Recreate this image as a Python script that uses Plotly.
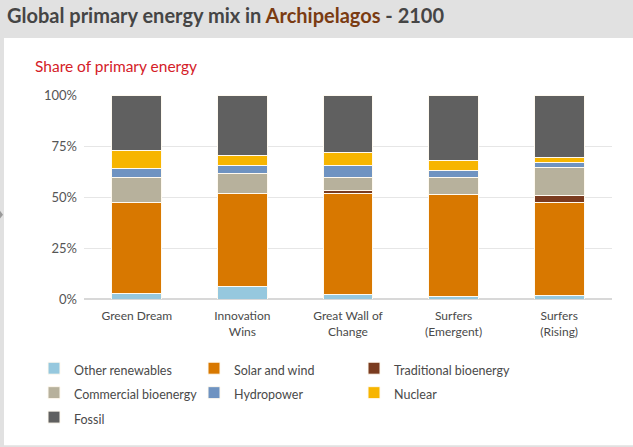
import plotly.graph_objects as go

# scenarios on the x axis
SCENARIOS = [
    "Green Dream",
    "Innovation<br>Wins",
    "Great Wall of<br>Change",
    "Surfers<br>(Emergent)",
    "Surfers<br>(Rising)",
]

# share of primary energy in 2100, % (bottom to top)
OTHER_RENEWABLES = [2.5, 5.9, 2.3, 1.0, 1.8]
SOLAR_WIND = [44.6, 46.0, 49.5, 50.3, 45.3]
TRADITIONAL_BIO = [0.0, 0.0, 1.4, 0.0, 3.7]
COMMERCIAL_BIO = [12.4, 9.6, 6.3, 8.2, 13.5]
HYDRO = [4.3, 3.9, 5.9, 3.3, 2.4]
NUCLEAR = [8.9, 4.9, 6.2, 5.0, 2.9]
FOSSIL = [27.3, 29.7, 28.4, 32.2, 30.4]

SERIES = [
    ("Other renewables", OTHER_RENEWABLES, "#96c8de"),
    ("Solar and wind", SOLAR_WIND, "#d87800"),
    ("Traditional bioenergy", TRADITIONAL_BIO, "#7a3b1f"),
    ("Commercial bioenergy", COMMERCIAL_BIO, "#b7b19c"),
    ("Hydropower", HYDRO, "#6f93c1"),
    ("Nuclear", NUCLEAR, "#f7b500"),
    ("Fossil", FOSSIL, "#606060"),
]

Y_TICKS = [0, 25, 50, 75, 100]

FONT = "Lato"
TEXT_GREY = "#4a4a4a"

W, H = 633, 447
M_L, M_R, M_T, M_B = 84, 21, 95, 144
PW = W - M_L - M_R
PH = H - M_T - M_B


def px_x(x):
    return (x - M_L) / PW


def px_y(y):
    return (H - M_B - y) / PH


fig = go.Figure()
for name, values, color in SERIES:
    fig.add_trace(
        go.Bar(
            x=SCENARIOS,
            y=values,
            name=f"<span style='font-size:12.5px'>{name}</span>",
            marker=dict(color=color, line=dict(color="#fffaf0", width=1)),
            hoverinfo="skip",
        )
    )

# grey page header / left strip with the white card on top of it
fig.add_shape(
    type="rect", xref="paper", yref="paper",
    x0=px_x(4), x1=px_x(W + 5), y0=px_y(H + 5), y1=px_y(37),
    fillcolor="white", line_width=0, layer="below",
)
fig.add_shape(
    type="path", xref="paper", yref="paper",
    path=f"M {px_x(0)} {px_y(213)} L {px_x(3)} {px_y(217)} L {px_x(0)} {px_y(221)} Z",
    fillcolor="#9a9a9a", line_width=0, layer="above",
)

fig.add_annotation(
    text="Share of primary energy",
    xref="paper", yref="paper",
    x=px_x(33), y=px_y(65),
    xanchor="left", yanchor="middle",
    showarrow=False,
    font=dict(family=FONT, size=15.5, color="#d42027"),
)

fig.update_layout(
    width=W,
    height=H,
    margin=dict(l=M_L, r=M_R, t=M_T, b=M_B),
    barmode="stack",
    bargap=0.527,
    paper_bgcolor="#e1e1e1",
    plot_bgcolor="white",
    font=dict(family=FONT, size=12, color=TEXT_GREY),
    title=dict(
        text="<b>Global primary energy mix in "
        "<span style='color:#7a3b12'>Archipelagos</span> - 2100</b>",
        xref="container", yref="container",
        x=7 / W, y=1 - 16 / H,
        xanchor="left", yanchor="middle",
        font=dict(family=FONT, size=20, color="#454545"),
    ),
    legend=dict(
        orientation="h",
        traceorder="normal",
        x=px_x(34), y=px_y(356),
        xanchor="left", yanchor="top",
        entrywidth=115,
        entrywidthmode="pixels",
        font=dict(family=FONT, size=16.5, color=TEXT_GREY),
        bgcolor="rgba(0,0,0,0)",
    ),
    showlegend=True,
)

fig.update_xaxes(
    showgrid=False,
    showline=False,
    ticks="",
    ticklabelstandoff=8,
    tickfont=dict(family=FONT, size=12, color=TEXT_GREY),
    fixedrange=True,
)
fig.update_yaxes(
    range=[0, 100],
    tickvals=Y_TICKS,
    ticktext=[f"{v}%" for v in Y_TICKS],
    showgrid=True,
    gridcolor="#e6e6e6",
    gridwidth=1,
    zeroline=True,
    zerolinecolor="#d8d8d8",
    zerolinewidth=1.5,
    ticks="",
    ticklabelstandoff=6,
    tickfont=dict(family=FONT, size=13, color="#555555"),
    fixedrange=True,
)

# the page's default body margin would shift the figure by 8px
fig.write_html(
    "out.html",
    config={"displayModeBar": False},
    post_script="document.body.style.margin = '0';",
)
